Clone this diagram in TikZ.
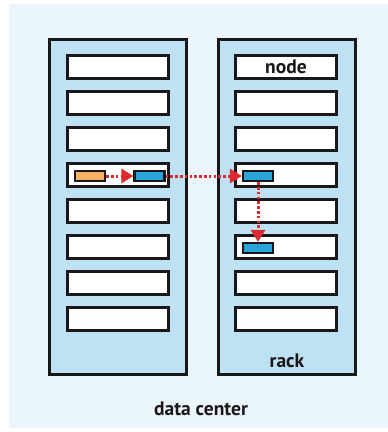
\documentclass[tikz,border=0pt]{standalone}
\usepackage{fontspec}
\setmainfont{PT Sans}
\usetikzlibrary{arrows.meta}
\definecolor{dcbg}{HTML}{EAF5FC}
\definecolor{rackbg}{HTML}{BEE1F4}
\definecolor{edge}{HTML}{1A1718}
\definecolor{blk}{HTML}{2AA3DC}
\definecolor{orng}{HTML}{F8B263}
\definecolor{arrowred}{HTML}{DD2A2F}
\definecolor{shade}{HTML}{A8A8A8}
\begin{document}
\begin{tikzpicture}[x=1pt,y=-1pt,
  lbl/.style={font=\bfseries\fontsize{19.5}{19.5}\selectfont, text=edge, inner sep=0pt},
  rackbox/.style={draw=edge, line width=3pt, fill=rackbg, minimum width=137pt, minimum height=335pt, inner sep=0pt},
  slot/.style={draw=edge, line width=3pt, fill=white, minimum width=101pt, minimum height=23pt, inner sep=0pt, lbl},
  block/.style={draw=edge, line width=2.2pt, minimum width=30pt, minimum height=10pt, inner sep=0pt},
  flow/.style={draw=arrowred, line width=3pt, dash pattern=on 2.6pt off 2.2pt,
    -{Triangle[length=12pt,width=14pt,sep=0pt]}}
]
\useasboundingbox (0,0) rectangle (388,432);
% data center area with its lower shadow
\fill[shade] (9,6) rectangle (392,430);
\fill[dcbg] (9,4) rectangle (392,428);

% racks
\node[rackbox] (rackL) at (118,207) {};
\node[rackbox] (rackR) at (287,207) {};

% node slots
\foreach \i in {1,...,8} {
  \node[slot] (l\i) at (118,{67+36*(\i-1)}) {};
}
\node[slot] (r1) at (286,67) {node};
\foreach \i in {2,...,8} {
  \node[slot] (r\i) at (286,{67+36*(\i-1)}) {};
}

% blocks
\node[block, fill=orng] (src) at (90,176) {};
\node[block, fill=blk] (b1) at (149.5,176) {};
\node[block, fill=blk] (b2) at (258,176) {};
\node[block, fill=blk] (b3) at (258,248) {};

% replication path
\draw[flow] (src.east) -- (b1.west);
\draw[flow] (b1.east) -- (b2.west);
\draw[flow] (b2.south) -- (b3.north);

% labels
\node[lbl, anchor=base] (racklbl) at (287,367) {rack};
\node[lbl, anchor=base] (dclbl) at (201,415) {data center};
\end{tikzpicture}
\end{document}
